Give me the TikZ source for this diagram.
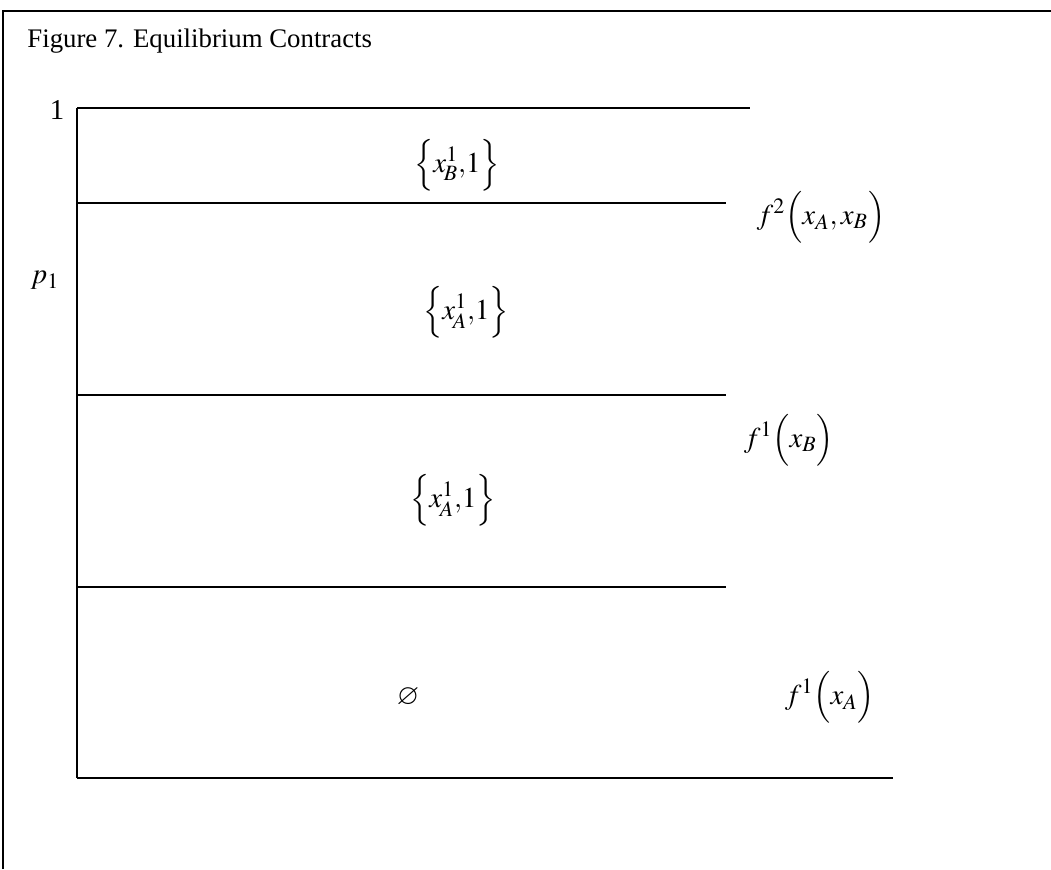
\documentclass[tikz,border=0pt]{standalone}
\usepackage{mathptmx}
\usepackage{amssymb}
\usepackage{fontspec}
\setmainfont{Liberation Serif}
\begin{document}
\begin{tikzpicture}[
        x=0.5pt, y=-0.5pt,
        every node/.style={font=\fontsize{13.4}{16}\selectfont, inner sep=0pt},
        mathlabel/.style={font=\fontsize{14.4}{17}\selectfont},
        cutline/.style={line width=1pt},
        frameline/.style={line width=1pt}
    ]
        \useasboundingbox (0,0) rectangle (1051,869);
        \draw[frameline] (3,869) -- (3,11) -- (1051,11);
        \node[anchor=base west] (title) at (27,47) {Figure 7. Equilibrium Contracts};

        \coordinate (top) at (77,108);
        \coordinate (topend) at (750,108);
        \coordinate (upper) at (77,203);
        \coordinate (upperend) at (726,203);
        \coordinate (middle) at (77,395);
        \coordinate (middleend) at (726,395);
        \coordinate (lower) at (77,587);
        \coordinate (lowerend) at (726,587);
        \coordinate (origin) at (77,778);
        \coordinate (originend) at (893,778);

        \draw[cutline] (top) -- (origin);
        \draw[cutline] (top) -- (topend);
        \draw[cutline] (upper) -- (upperend);
        \draw[cutline] (middle) -- (middleend);
        \draw[cutline] (lower) -- (lowerend);
        \draw[cutline] (origin) -- (originend);

        \node[mathlabel] (one) at (57,110) {1};
        \node[mathlabel] (prob) at (45,280) {$p_1$};

        \node[mathlabel] (regionB) at (457,165) {$\Bigl\{x_{\!B}^1{,}1\Bigr\}$};
        \node[mathlabel] (regionAhigh) at (466,312) {$\Bigl\{x_{\!A}^1{,}1\Bigr\}$};
        \node[mathlabel] (regionAlow) at (453,500) {$\Bigl\{x_{\!A}^1{,}1\Bigr\}$};
        \node[mathlabel] (regionnone) at (408,697) {$\varnothing$};

        \node[mathlabel] (ftwo) at (821,217) {$f^2\Bigl(x_A{,}\,x_B\Bigr)$};
        \node[mathlabel] (foneB) at (789,440) {$f^1\Bigl(x_B\Bigr)$};
        \node[mathlabel] (foneA) at (830,697) {$f^1\Bigl(x_A\Bigr)$};
\end{tikzpicture}
\end{document}
